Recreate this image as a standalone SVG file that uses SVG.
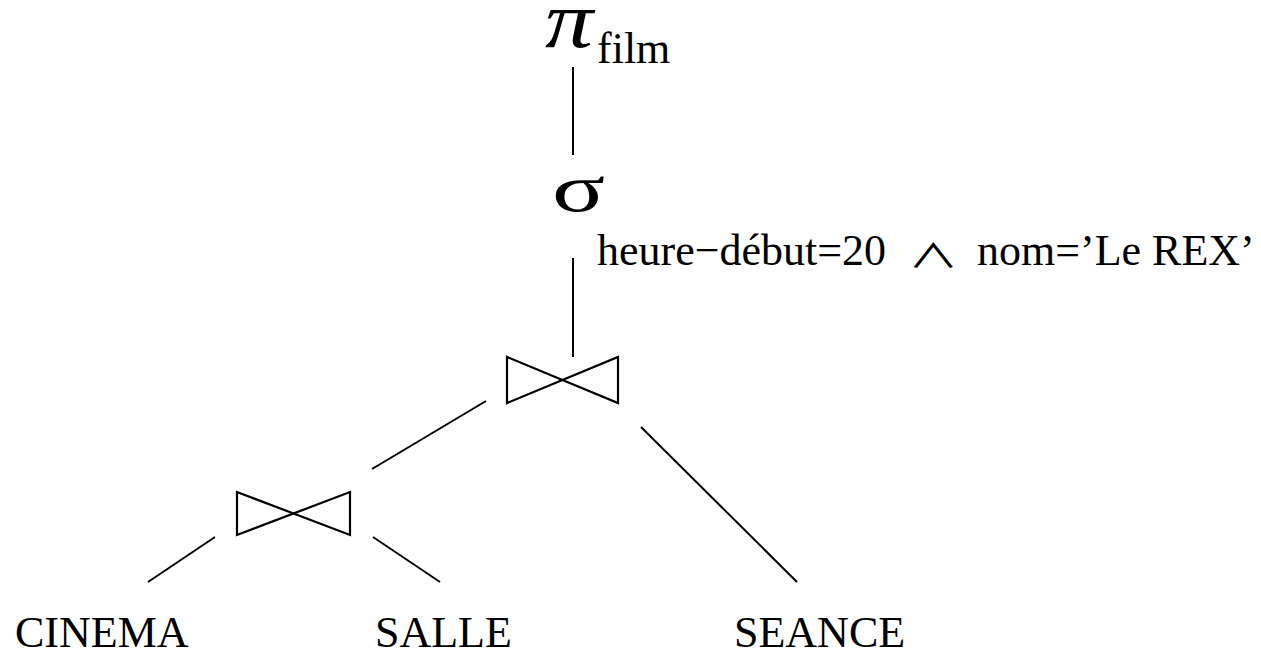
<svg xmlns="http://www.w3.org/2000/svg" width="1261" height="653" viewBox="0 0 1261 653">
  <style>
    .edge { stroke: #000; stroke-width: 2; fill: none; stroke-linecap: butt; }
    .join { stroke: #000; stroke-width: 2.2; fill: none; stroke-linejoin: miter; }
    .lbl { font-family: "Liberation Serif", "Times New Roman", serif; font-size: 44px; fill: #000; }
    .greek { font-family: "Liberation Serif", "Times New Roman", serif; fill: #000; }
  </style>
  <rect width="1261" height="653" fill="#fff"/>

  <!-- connectors -->
  <g id="connectors">
    <line class="edge" x1="573" y1="67" x2="573" y2="155"/>
    <line class="edge" x1="573" y1="258" x2="573" y2="357"/>
    <line class="edge" x1="486" y1="401" x2="372" y2="469"/>
    <line class="edge" x1="641" y1="427" x2="797" y2="582"/>
    <line class="edge" x1="215" y1="537" x2="148" y2="582"/>
    <line class="edge" x1="373" y1="537" x2="440" y2="582"/>
  </g>

  <!-- projection on film -->
  <g id="projection">
    <text class="greek" font-size="80" font-style="italic" transform="translate(545,47) scale(1.2,1)">π</text>
    <text class="lbl" x="597" y="63">film</text>
  </g>

  <!-- selection -->
  <g id="selection">
    <text class="greek" font-size="68" transform="translate(552,211) scale(1.45,1)">σ</text>
    <text class="lbl" x="597" y="265">heure−début=20</text>
    <text font-family="Noto Sans CJK JP, DejaVu Sans, sans-serif" font-size="44" fill="#000" transform="translate(908,268) scale(1.15,0.75)">∧</text>
    <text class="lbl" x="977" y="265">nom=’Le REX’</text>
  </g>

  <!-- upper join -->
  <g id="join-top">
    <path class="join" d="M507 357 L507 403 L618 357 L618 403 Z"/>
  </g>

  <!-- lower join -->
  <g id="join-bottom">
    <path class="join" d="M237 492 L237 535 L350 492 L350 535 Z"/>
  </g>

  <!-- relations -->
  <g id="cinema"><text class="lbl" x="15" y="647">CINEMA</text></g>
  <g id="salle"><text class="lbl" x="375" y="647">SALLE</text></g>
  <g id="seance"><text class="lbl" x="734" y="647">SEANCE</text></g>
</svg>
